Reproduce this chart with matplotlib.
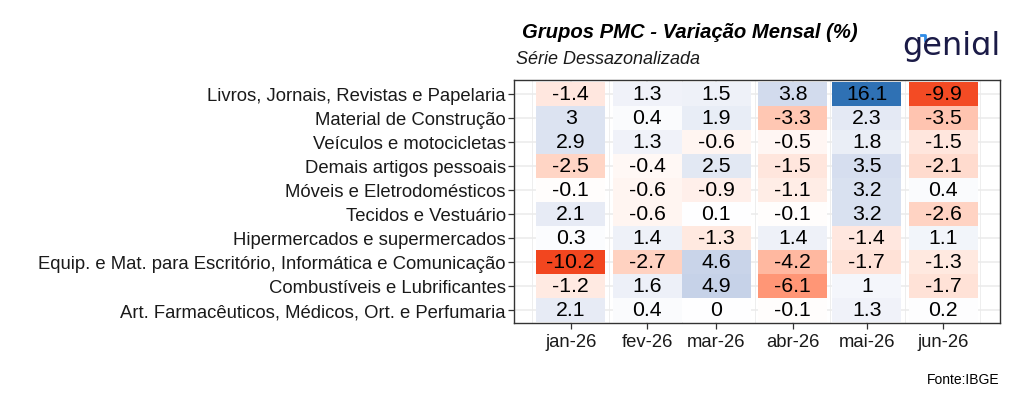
''' Heatmap dos grupos da PMC - variação mensal dessazonalizada '''

import numpy as np
import matplotlib
matplotlib.use('Agg')
import matplotlib.pyplot as plt
import matplotlib.dates as mdates
from matplotlib.colors import LinearSegmentedColormap, TwoSlopeNorm
from matplotlib.lines import Line2D

plt.rcParams['font.family'] = ['Liberation Sans', 'DejaVu Sans']

# dados
categorias = [
    "Livros, Jornais, Revistas e Papelaria",
    "Material de Construção",
    "Veículos e motocicletas",
    "Demais artigos pessoais",
    "Móveis e Eletrodomésticos",
    "Tecidos e Vestuário",
    "Hipermercados e supermercados",
    "Equip. e Mat. para Escritório, Informática e Comunicação",
    "Combustíveis e Lubrificantes",
    "Art. Farmacêuticos, Médicos, Ort. e Perfumaria",
]
meses = ["2026-01-01", "2026-02-01", "2026-03-01", "2026-04-01", "2026-05-01", "2026-06-01"]
rotulos_meses = ["jan-26", "fev-26", "mar-26", "abr-26", "mai-26", "jun-26"]
valores = [
    [-1.4, 1.3, 1.5, 3.8, 16.1, -9.9],
    [3.0, 0.4, 1.9, -3.3, 2.3, -3.5],
    [2.9, 1.3, -0.6, -0.5, 1.8, -1.5],
    [-2.5, -0.4, 2.5, -1.5, 3.5, -2.1],
    [-0.1, -0.6, -0.9, -1.1, 3.2, 0.4],
    [2.1, -0.6, 0.1, -0.1, 3.2, -2.6],
    [0.3, 1.4, -1.3, 1.4, -1.4, 1.1],
    [-10.2, -2.7, 4.6, -4.2, -1.7, -1.3],
    [-1.2, 1.6, 4.9, -6.1, 1.0, -1.7],
    [2.1, 0.4, 0.0, -0.1, 1.3, 0.2],
]

x = mdates.date2num(np.array(meses, dtype='datetime64[D]'))
dados = np.array(valores)
n = len(categorias)

# gradiente divergente (interpolado em Lab, aproximado por nós)
cmap = LinearSegmentedColormap.from_list('pmc', [
    (0.0, '#F2461F'), (0.125, '#FF7B56'), (0.25, '#FFA88C'), (0.375, '#FFD4C4'),
    (0.5, '#FFFFFF'),
    (0.625, '#D0D9EC'), (0.75, '#A1B5DA'), (0.875, '#6F92C7'), (1.0, '#2F71B4'),
])
norm = TwoSlopeNorm(vcenter=0.0, vmin=dados.min(), vmax=dados.max())

fig = plt.figure(figsize=(10.24, 4.10), dpi=100)
ax = fig.add_axes([514/1024, 1-324/410, 486/1024, 243/410])

# tiles (largura de 28 dias, como no ggplot)
for i, linha in enumerate(dados):
    ax.bar(x, 1.0, width=28, bottom=i-0.5, color=cmap(norm(linha)), align='center', zorder=2)
    for xi, v in zip(x, linha):
        ax.text(xi, i, f"{v:g}", ha='center', va='center', fontsize=15.3, color='black', zorder=3)

# escalas
lo, hi = x.min() - 14, x.max() + 14
pad = 0.05*(hi - lo)
ax.set_xlim(lo - pad, hi + pad)
ax.set_ylim(n - 1 + 0.55, -0.58)

ax.set_xticks(x)
ax.set_xticklabels(rotulos_meses)
ext = np.concatenate([[x[0] - 31], x, [x[-1] + 30]])
ax.set_xticks((ext[:-1] + ext[1:])/2, minor=True)
ax.set_yticks(range(n))
ax.set_yticklabels(categorias)

ax.tick_params(axis='both', which='major', length=4, width=0.9, color='#333333',
               labelcolor='#1a1a1a', labelsize=13.3, pad=2)
ax.tick_params(axis='x', which='major', pad=3)
ax.tick_params(axis='x', which='minor', length=0)
ax.grid(which='major', color='#EBEBEB', linewidth=1.1)
ax.grid(which='minor', axis='x', color='#EBEBEB', linewidth=0.6)
ax.set_axisbelow(True)
for s in ax.spines.values():
    s.set_color('#333333')
    s.set_linewidth(1.0)

# textos
fig.text(522/1024, 1-32/410, "Grupos PMC - Variação Mensal (%)", fontsize=14.6,
         fontweight='bold', style='italic', va='center', ha='left')
fig.text(516/1024, 1-60/410, "Série Dessazonalizada", fontsize=13,
         style='italic', va='center', ha='left', color='#1a1a1a')
fig.text(1000/1024, 1-380/410, "Fonte:IBGE", fontsize=10, ha='right', va='center')

# logo
fig.text(1001/1024, 1-55/410, "geniɑl", fontsize=23, color='#1B1B47', ha='right',
         va='baseline', family='DejaVu Sans')
fig.add_artist(Line2D([921/1024, 925/1024, 925/1024], [1-36/410, 1-36/410, 1-41/410],
                      color='#2E8BE6', linewidth=2, transform=fig.transFigure))

plt.savefig("out.png", dpi=100)
